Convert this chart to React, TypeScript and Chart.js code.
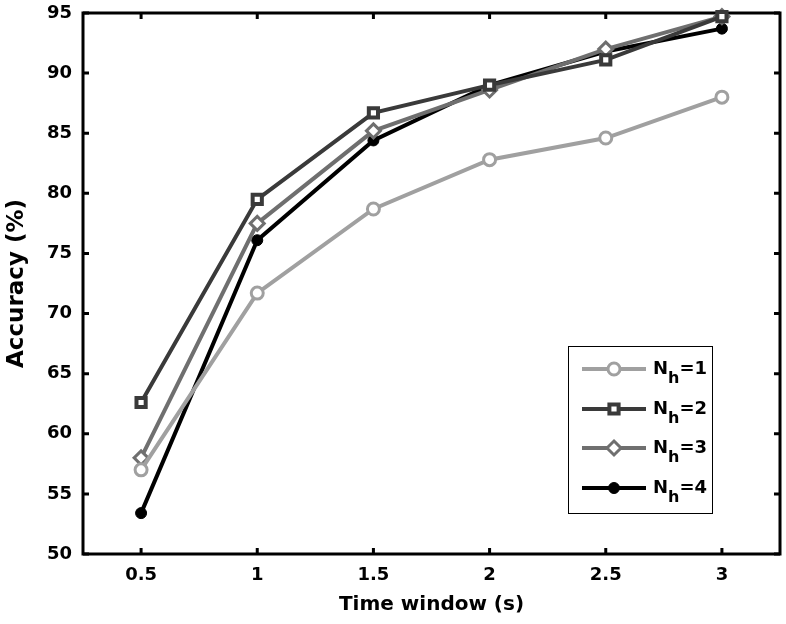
import React, { useEffect, useRef } from "react";
import { Chart, registerables } from "chart.js";

Chart.register(...registerables);

// ---- data ----
const timeWindows = [0.5, 1, 1.5, 2, 2.5, 3];
const accNh1 = [57.0, 71.7, 78.7, 82.8, 84.6, 88.0];
const accNh2 = [62.6, 79.5, 86.7, 89.0, 91.1, 94.7];
const accNh3 = [58.0, 77.5, 85.2, 88.6, 92.0, 94.7];
const accNh4 = [53.4, 76.1, 84.4, 89.0, 91.8, 93.7];
const seriesNames = ["1", "2", "3", "4"];
const yTicks = [50, 55, 60, 65, 70, 75, 80, 85, 90, 95];
const xTickLabels = ["0.5", "1", "1.5", "2", "2.5", "3"];
const xTitle = "Time window (s)";
const yTitle = "Accuracy (%)";

const FONT = '"DejaVu Sans", "Liberation Sans", Arial, sans-serif';

const styles = [
  { color: "#a0a0a0", shape: "circle", radius: 6, fill: "#ffffff", bw: 3 },
  { color: "#3a3a3a", shape: "rect", radius: 6.5, fill: "#ffffff", bw: 4 },
  { color: "#6f6f6f", shape: "rectRot", radius: 7, fill: "#ffffff", bw: 3 },
  { color: "#000000", shape: "circle", radius: 5.5, fill: "#000000", bw: 1 },
];

function drawMarker(ctx: CanvasRenderingContext2D, s: any, x: number, y: number) {
  ctx.save();
  ctx.strokeStyle = s.color;
  ctx.fillStyle = s.fill;
  ctx.lineWidth = s.bw;
  ctx.beginPath();
  if (s.shape === "circle") {
    ctx.arc(x, y, s.radius, 0, Math.PI * 2);
  } else if (s.shape === "rect") {
    const h = s.radius * Math.SQRT1_2;
    ctx.rect(x - h, y - h, 2 * h, 2 * h);
  } else {
    const r = s.radius;
    ctx.moveTo(x, y - r);
    ctx.lineTo(x + r, y);
    ctx.lineTo(x, y + r);
    ctx.lineTo(x - r, y);
    ctx.closePath();
  }
  ctx.fill();
  ctx.stroke();
  ctx.restore();
}

const framePlugin = {
  id: "frameTicks",
  beforeDatasetsDraw(chart: any) {
    const { ctx, chartArea } = chart;
    const { left, right, top, bottom } = chartArea;
    const xs = chart.scales.x;
    const ys = chart.scales.y;
    ctx.save();
    ctx.strokeStyle = "#000";
    ctx.lineWidth = 3;
    ctx.strokeRect(left, top, right - left, bottom - top);
    const tl = 6;
    ctx.beginPath();
    for (const v of timeWindows) {
      const px = xs.getPixelForValue(v);
      ctx.moveTo(px, bottom);
      ctx.lineTo(px, bottom - tl);
      ctx.moveTo(px, top);
      ctx.lineTo(px, top + tl);
    }
    for (const v of yTicks) {
      const py = ys.getPixelForValue(v);
      ctx.moveTo(left, py);
      ctx.lineTo(left + tl, py);
      ctx.moveTo(right, py);
      ctx.lineTo(right - tl, py);
    }
    ctx.stroke();
    ctx.restore();
  },
};

const legendPlugin = {
  id: "customLegend",
  afterDatasetsDraw(chart: any) {
    const { ctx } = chart;
    const bx = 568, by = 346, bw = 144, bh = 167;
    ctx.save();
    ctx.fillStyle = "#fff";
    ctx.fillRect(bx, by, bw, bh);
    ctx.strokeStyle = "#000";
    ctx.lineWidth = 1;
    ctx.strokeRect(bx + 0.5, by + 0.5, bw, bh);
    const rowY = [369, 409, 448, 488];
    seriesNames.forEach((name, i) => {
      const s = styles[i];
      const cy = rowY[i];
      ctx.strokeStyle = s.color;
      ctx.lineWidth = 4;
      ctx.beginPath();
      ctx.moveTo(582, cy);
      ctx.lineTo(646, cy);
      ctx.stroke();
      drawMarker(ctx, s, 614, cy);
      ctx.fillStyle = "#000";
      ctx.textBaseline = "alphabetic";
      ctx.textAlign = "left";
      const base = cy + 5;
      ctx.font = `bold 18px ${FONT}`;
      let x = 653;
      ctx.fillText("N", x, base);
      x += ctx.measureText("N").width;
      ctx.font = `bold 16px ${FONT}`;
      ctx.fillText("h", x, base + 9);
      x += ctx.measureText("h").width;
      ctx.font = `bold 18px ${FONT}`;
      ctx.fillText("=" + name, x, base);
    });
    ctx.restore();
  },
};

export default function App() {
  const ref = useRef<HTMLCanvasElement | null>(null);
  useEffect(() => {
    if (!ref.current) return;
    const series = [accNh1, accNh2, accNh3, accNh4];
    const datasets = series.map((vals, i) => {
      const s = styles[i];
      return {
        label: "N_h=" + seriesNames[i],
        data: vals.map((v, j) => ({ x: timeWindows[j], y: v })),
        borderColor: s.color,
        backgroundColor: s.color,
        borderWidth: 4,
        pointStyle: s.shape,
        pointRadius: s.radius,
        pointBorderWidth: s.bw,
        pointBorderColor: s.color,
        pointBackgroundColor: s.fill,
        pointHoverRadius: s.radius,
        tension: 0,
        clip: false,
      };
    });
    const chart = new Chart(ref.current, {
      type: "line",
      data: { datasets: datasets as any },
      plugins: [framePlugin, legendPlugin],
      options: {
        responsive: false,
        animation: false,
        devicePixelRatio: 1,
        layout: { autoPadding: false, padding: { top: 13, right: 6, bottom: 0, left: 0 } },
        plugins: { legend: { display: false }, tooltip: { enabled: false } },
        scales: {
          x: {
            type: "linear",
            min: 0.25,
            max: 3.25,
            afterBuildTicks: (axis: any) => {
              axis.ticks = timeWindows.map((v) => ({ value: v }));
            },
            afterFit: (axis: any) => {
              axis.height = 70;
              axis.paddingLeft = 0;
              axis.paddingRight = 0;
            },
            grid: { display: false, drawTicks: false },
            border: { display: false },
            ticks: {
              padding: 11,
              color: "#000",
              font: { family: FONT, size: 18, weight: "bold" },
              callback: (_v: any, i: number) => xTickLabels[i],
            },
            title: {
              display: true,
              text: xTitle,
              color: "#000",
              font: { family: FONT, size: 20, weight: "bold" },
              padding: { top: 0, bottom: 7 },
            },
          },
          y: {
            type: "linear",
            min: 50,
            max: 95,
            afterBuildTicks: (axis: any) => {
              axis.ticks = yTicks.map((v) => ({ value: v }));
            },
            afterFit: (axis: any) => {
              axis.width = 83;
              axis.paddingTop = 0;
              axis.paddingBottom = 0;
            },
            grid: { display: false, drawTicks: false },
            border: { display: false },
            ticks: {
              padding: 11,
              color: "#000",
              font: { family: FONT, size: 18, weight: "bold" },
            },
            title: {
              display: true,
              text: yTitle,
              color: "#000",
              font: { family: FONT, size: 23, weight: "bold" },
              padding: { top: 3, bottom: 0 },
            },
          },
        },
      } as any,
    });
    return () => chart.destroy();
  }, []);
  return (
    <div style={{ position: "absolute", left: 0, top: 0, width: 786, height: 624, background: "#fff" }}>
      <canvas ref={ref} width={786} height={624} style={{ display: "block" }} />
    </div>
  );
}
